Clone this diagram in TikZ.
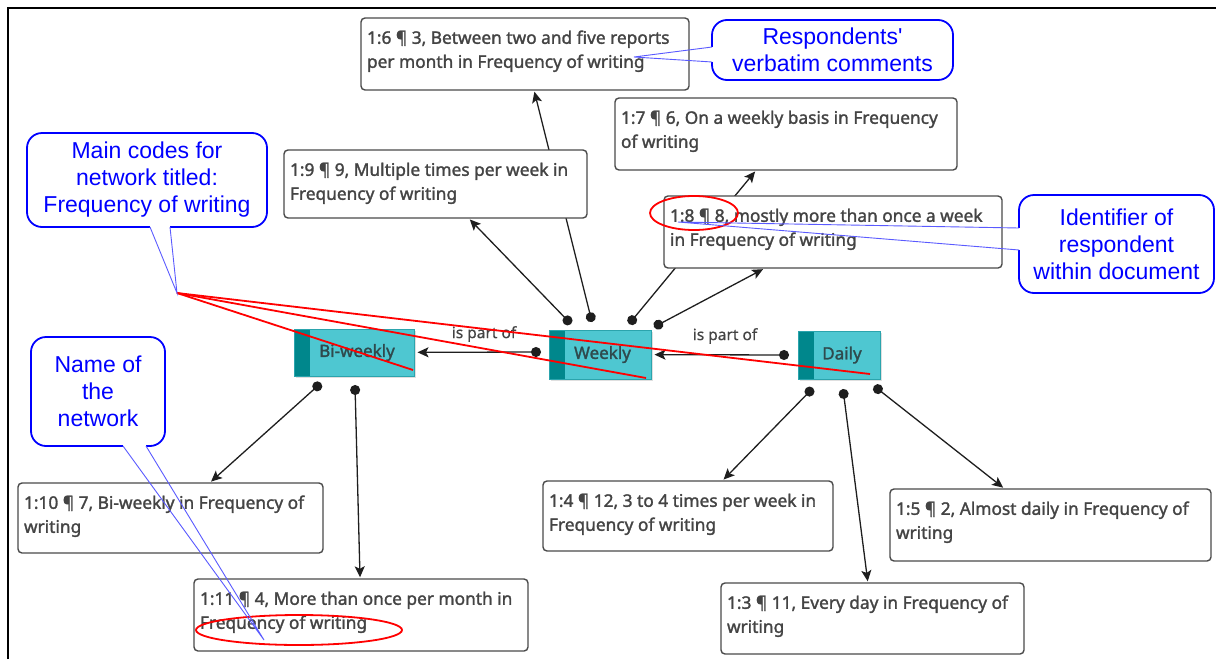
\documentclass[tikz,border=0pt]{standalone}
\usepackage{fontspec}
\setmainfont{Noto Sans}
\newfontfamily\codefont{Noto Sans}[FakeBold=1.6]
\newfontfamily\relfont{Noto Sans}[FakeBold=0.6]
\newfontfamily\callfont{Liberation Sans}
\usetikzlibrary{arrows.meta,calc,shadows}
\pgfdeclarelayer{bg}
\pgfsetlayers{bg,main}
\definecolor{txt}{HTML}{444444}
\definecolor{boxgray}{HTML}{4A4A4A}
\definecolor{teal1}{HTML}{4EC7D1}
\definecolor{teal2}{HTML}{00878C}
\definecolor{tealb}{HTML}{2BA4AD}
\definecolor{ctext}{HTML}{2F4A4D}
\definecolor{cblue}{HTML}{0000FF}
\definecolor{lblue}{HTML}{5A5AFF}
\definecolor{edgecol}{HTML}{1E1E1E}
\newcommand{\cbtext}[3]{\parbox[c][#2pt][t]{#1pt}{\raggedright\vspace*{9pt}\strut #3}}
\begin{document}
\begin{tikzpicture}[x=1pt,y=-1pt,
  codebox/.style={draw=boxgray,line width=1.4pt,rounded corners=4pt,fill=white,
    inner xsep=6pt,inner ysep=0pt,text=txt,
    font=\codefont\fontsize{17.3}{24}\selectfont},
  concept/.style={draw=tealb,line width=1pt,fill=teal1,text=ctext,inner sep=0pt,
    drop shadow={opacity=0.25,shadow xshift=2pt,shadow yshift=-2pt},
    font=\codefont\fontsize{17}{20}\selectfont,
    path picture={\fill[teal2] (path picture bounding box.north west) rectangle
      ([xshift=16pt]path picture bounding box.south west);}},
  edge/.style={draw=edgecol,line width=1.3pt,
    {Circle[length=10pt]}-{Stealth[length=11pt,width=10pt,inset=2.5pt]},shorten >=1pt},
  rel/.style={text=txt,font=\relfont\fontsize{15.5}{18}\selectfont},
  callout/.style={draw=cblue,line width=1.8pt,rounded corners=15pt,fill=white,
    text=cblue,align=center,inner sep=0pt,
    font=\callfont\fontsize{23}{27}\selectfont},
  pointer/.style={draw=lblue,line width=0.9pt},
  gapfill/.style={draw=white,line width=3pt},
  redline/.style={draw=red,line width=1.8pt},
  redring/.style={draw=red,line width=1.8pt}]
\useasboundingbox (0,0) rectangle (1216,659);
% frame
\draw[line width=2pt] (8,659) -- (8,8) -- (1216,8);

% code boxes
\node[codebox] (c6) at (525,54) {\cbtext{316}{72}{1:6 ¶ 3, Between two and five reports\\per month in Frequency of writing}};
\node[codebox] (c9) at (435.5,184) {\cbtext{291}{68}{1:9 ¶ 9, Multiple times per week in\\Frequency of writing}};
\node[codebox] (c7) at (786,134) {\cbtext{330}{72}{1:7 ¶ 6, On a weekly basis in Frequency\\of writing}};
\node[codebox] (c8) at (833,232) {\cbtext{326}{72}{1:8 ¶ 8, mostly more than once a week\\in Frequency of writing}};
\node[codebox] (c10) at (170.5,518) {\cbtext{293}{70}{1:10 ¶ 7, Bi-weekly in Frequency of\\writing}};
\node[codebox] (c11) at (361,615) {\cbtext{322}{72}{1:11 ¶ 4, More than once per month in\\Frequency of writing}};
\node[codebox] (c4) at (688,516) {\cbtext{278}{70}{1:4 ¶ 12, 3 to 4 times per week in\\Frequency of writing}};
\node[codebox] (c5) at (1050.5,525) {\cbtext{309}{72}{1:5 ¶ 2, Almost daily in Frequency of\\writing}};
\node[codebox] (c3) at (872.5,618.5) {\cbtext{291}{71}{1:3 ¶ 11, Every day in Frequency of\\writing}};

% concept nodes
\node[concept,minimum width=120pt,minimum height=47pt] (bi) at (354,352.5) {\hspace*{6pt}Bi-weekly};
\node[concept,minimum width=102pt,minimum height=49pt] (wk) at (600,354.5) {\hspace*{5pt}Weekly};
\node[concept,minimum width=82pt,minimum height=48pt] (dy) at (839,355) {\hspace*{6pt}Daily};

% relation labels
\node[rel] (rel1) at (484,334) {is part of};
\node[rel] (rel2) at (725,336) {is part of};

% start points of connectors
\coordinate (w1) at (571,324);
\coordinate (w2) at (592,322);
\coordinate (w3) at (629,324);
\coordinate (w4) at (654,327);
\coordinate (w5) at (541,352);
\coordinate (b1) at (321,383);
\coordinate (b2) at (355,385);
\coordinate (d1) at (813,388);
\coordinate (d2) at (843,389);
\coordinate (d3) at (874,386);
\coordinate (d4) at (789,355);

\begin{pgfonlayer}{bg}
\draw[edge] (w1) -- (c9);
\draw[edge] (w2) -- (c6);
\draw[edge] (w3) -- (c7);
\draw[edge] (w4) -- (c8);
\draw[edge] (b1) -- (c10);
\draw[edge] (b2) -- (c11);
\draw[edge] (d1) -- (c4);
\draw[edge] (d2) -- (c3);
\draw[edge] (d3) -- (c5);
\end{pgfonlayer}
\draw[edge,shorten >=3pt] (w5) -- (bi);
\draw[edge,shorten >=3pt] (d4) -- (wk);

% red annotation lines and rings
\coordinate (mtip) at (177,293);
\coordinate (r1) at (413,370);
\coordinate (r2) at (646,378);
\coordinate (r3) at (870,374);
\draw[redline] (mtip) -- (r1);
\draw[redline] (mtip) -- (r2);
\draw[redline] (mtip) -- (r3);
\draw[redring] (694,213) ellipse [x radius=44pt, y radius=17pt];
\draw[redring] (299,630) ellipse [x radius=103pt, y radius=15pt];

% callouts
\node[callout,minimum width=240pt,minimum height=94pt] (mc) at (147,180) {Main codes for\\network titled:\\Frequency of writing};
\coordinate (mcb1) at (150,227);
\coordinate (mcb2) at (170,227);
\draw[gapfill] (mcb1) -- (mcb2);
\draw[pointer] (mcb1) -- (mtip) -- (mcb2);

\node[callout,minimum width=241pt,minimum height=60pt] (rc) at (832.5,50) {Respondents'\\verbatim comments};
\coordinate (rcb1) at (712,47);
\coordinate (rcb2) at (712,62);
\coordinate (rtip) at (634,57);
\draw[gapfill] (rcb1) -- (rcb2);
\draw[pointer] (rcb1) -- (rtip) -- (rcb2);

\node[callout,minimum width=195pt,minimum height=98pt] (ic) at (1116.5,244) {Identifier of\\respondent\\within document};
\coordinate (icb1) at (1019,228);
\coordinate (icb2) at (1019,250);
\coordinate (itip) at (678,222);
\draw[gapfill] (icb1) -- (icb2);
\draw[pointer] (icb1) -- (itip) -- (icb2);

\node[callout,minimum width=134pt,minimum height=109pt] (nc) at (98,391.5) {Name of\\the\\network};
\coordinate (ncb1) at (123,446);
\coordinate (ncb2) at (146,446);
\coordinate (ntip) at (264,640);
\draw[gapfill] (ncb1) -- (ncb2);
\draw[pointer] (ncb1) -- (ntip) -- (ncb2);
\end{tikzpicture}
\end{document}
